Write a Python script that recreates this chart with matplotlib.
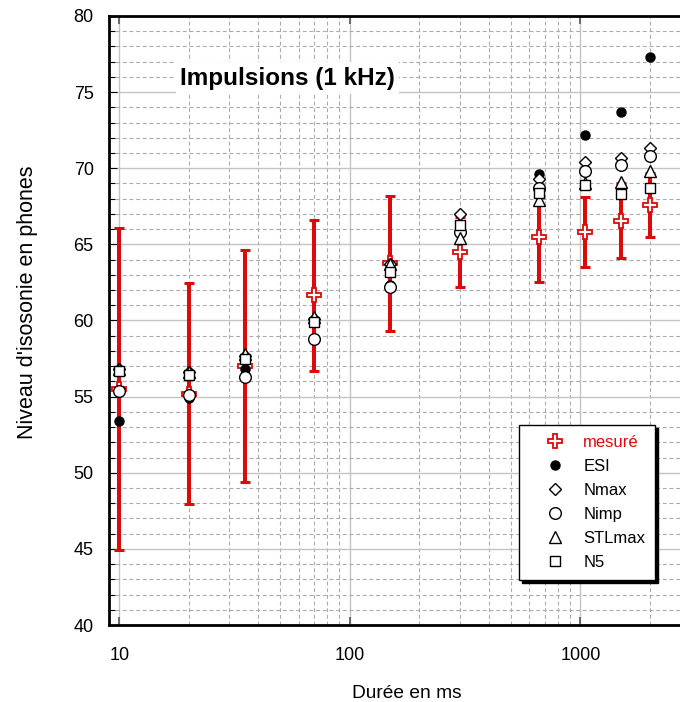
import matplotlib
matplotlib.use("Agg")
import matplotlib.pyplot as plt
from matplotlib.ticker import MultipleLocator, LogLocator, FixedLocator, NullFormatter, FixedFormatter

plt.rcParams['font.family'] = ['Liberation Sans', 'DejaVu Sans']

# Durations of the tone pulses (ms)
durations = [10, 20, 35, 70, 150, 300, 660, 1050, 1500, 2000]

# Measured loudness level (phon) and its spread
mesure = [55.5, 55.2, 57.0, 61.65, 63.75, 64.5, 65.5, 65.8, 66.55, 67.6]
mesure_err = [10.6, 7.25, 7.6, 4.95, 4.45, 2.3, 3.0, 2.3, 2.45, 2.1]

# Model predictions (phon)
esi = [53.4, 54.9, 56.8, 60.0, 62.3, 66.3, 69.6, 72.2, 73.7, 77.3]
nmax = [56.8, 56.6, 57.7, 60.1, 63.7, 67.0, 69.3, 70.4, 70.7, 71.3]
nimp = [55.4, 55.1, 56.3, 58.8, 62.2, 65.8, 68.7, 69.8, 70.2, 70.8]
stlmax = [56.8, 56.6, 57.8, 60.2, 63.7, 65.4, 67.9, 69.0, 69.1, 69.8]
n5 = [56.7, 56.4, 57.5, 59.9, 63.2, 66.3, 68.4, 68.9, 68.3, 68.7]

y_ticks = [40, 45, 50, 55, 60, 65, 70, 75, 80]
x_ticks = [10, 100, 1000]
x_ticklabels = ["10", "100", "1000"]

RED = '#dc0a0a'

fig = plt.figure(figsize=(6.8, 7.02), dpi=100)
ax = fig.add_axes([109 / 680, 77 / 702, 596 / 680, 609 / 702])

ax.set_xscale('log')
ax.set_xlim(9.02, 3475)
ax.set_ylim(40, 80)

# grid: solid major lines, dashed minor lines
ax.xaxis.set_major_locator(FixedLocator(x_ticks))
ax.xaxis.set_major_formatter(FixedFormatter(x_ticklabels))
ax.xaxis.set_minor_locator(LogLocator(base=10, subs=[2, 3, 4, 5, 6, 7, 8, 9]))
ax.xaxis.set_minor_formatter(NullFormatter())
ax.yaxis.set_major_locator(FixedLocator(y_ticks))
ax.yaxis.set_minor_locator(MultipleLocator(1))
ax.set_axisbelow(True)
ax.grid(which='major', color='#c4c4c4', lw=1.0, ls='-')
ax.grid(which='minor', color='#ababab', lw=0.8, ls=(0, (3.5, 2.5)))

for side in ('left', 'bottom', 'top'):
    ax.spines[side].set_linewidth(2.0)
ax.spines['right'].set_visible(False)

ax.tick_params(axis='y', which='major', direction='in', length=6, width=0.8,
               labelsize=13, pad=11, left=True, right=False)
ax.tick_params(axis='y', which='minor', direction='in', length=4, width=0.8,
               left=True, right=False)
ax.tick_params(axis='x', which='major', direction='in', length=6, width=1.3,
               color='#606060', labelsize=13, pad=16, top=True, bottom=True)
ax.tick_params(axis='x', which='minor', length=0)

# measured values with their spread
ax.errorbar(durations, mesure, yerr=mesure_err, fmt='none', ecolor=RED,
            elinewidth=2.9, capsize=3.3, capthick=2.2, zorder=3)
ax.plot(durations, mesure, ls='none', marker='P', ms=9.5, mfc='white',
        mec=RED, mew=1.3, label='mesuré', zorder=4)

ax.plot(durations, esi, ls='none', marker='o', ms=6.5, mfc='black',
        mec='black', label='ESI', zorder=5)
ax.plot(durations, nmax, ls='none', marker='D', ms=6, mfc='white',
        mec='black', mew=1.0, label='Nmax', zorder=6)
ax.plot(durations, nimp, ls='none', marker='o', ms=8.4, mfc='white',
        mec='black', mew=1.0, label='Nimp', zorder=7)
ax.plot(durations, stlmax, ls='none', marker='^', ms=8.5, mfc='white',
        mec='black', mew=1.0, label='STLmax', zorder=8)
ax.plot(durations, n5, ls='none', marker='s', ms=7, mfc='white',
        mec='black', mew=1.0, label='N5', zorder=9)

ax.text(0.300, 0.898, 'Impulsions (1 kHz)', transform=ax.transAxes,
        ha='center', va='center', fontsize=17.5, fontweight='bold',
        bbox=dict(facecolor='white', edgecolor='none', pad=3), zorder=2.5)

ax.set_xlabel('Durée en ms', fontsize=13.8, labelpad=15)
ax.set_ylabel("Niveau d'isosonie en phones", fontsize=15.5)
ax.yaxis.set_label_coords(-0.119, 0.53)

leg = ax.legend(loc='upper left', bbox_to_anchor=(519 / 680, 1 - 425 / 702),
                bbox_transform=fig.transFigure, borderaxespad=0,
                fontsize=12, frameon=True, fancybox=False,
                shadow={'color': 'black', 'alpha': 1},
                handlelength=3.1, handletextpad=0.15, borderpad=0.6,
                labelspacing=0.54, framealpha=1)
leg.get_frame().set_edgecolor('black')
leg.get_frame().set_linewidth(1.0)
leg.get_texts()[0].set_color(RED)
leg.set_zorder(20)

fig.savefig('out.png', dpi=100)
